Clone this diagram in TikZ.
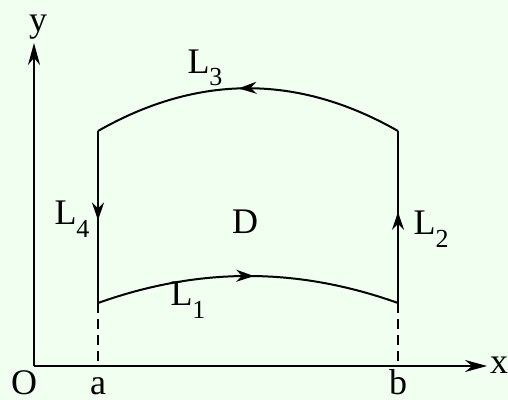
\documentclass[tikz,border=0pt]{standalone}
\usepackage{fontspec}
\setmainfont{Liberation Serif}
\usetikzlibrary{arrows.meta,decorations.markings}
\newcommand{\seg}[1]{L\raisebox{-0.35em}{\fontsize{13}{13}\selectfont #1}}

\begin{document}
\begin{tikzpicture}[x=0.5pt,y=-0.5pt,line width=1pt,
  font=\fontsize{18}{20}\selectfont,
  midarrow/.style={postaction={decorate},
    decoration={markings,mark=at position #1 with {\arrow{Stealth[length=9pt,width=6pt]}}}}]
  \fill[fill={rgb,255:red,240;green,255;blue,240}] (0,0) rectangle (508,400);
  \useasboundingbox (0,0) rectangle (508,400);
  % axes
  \coordinate (O) at (34,366);
  \coordinate (xend) at (487,366);
  \coordinate (yend) at (34,43);
  \draw[-{Stealth[length=11pt,width=6pt]}] (O) -- (xend);
  \draw[-{Stealth[length=11pt,width=6pt]}] (O) -- (yend);
  \node[anchor=base] (xlab) at (499,373) {x};
  \node[anchor=base] (ylab) at (38,32) {y};
  \node[anchor=base] (olab) at (24,394) {O};
  % region D
  \coordinate (A) at (98,303);
  \coordinate (B) at (398,303);
  \coordinate (C) at (398,131);
  \coordinate (E) at (98,131);
  \coordinate (a) at (98,366);
  \coordinate (b) at (398,366);
  \draw[midarrow=0.52] (A) .. controls (199,267) and (297,267) .. (B);
  \draw[midarrow=0.53] (B) -- (C);
  \draw[midarrow=0.53] (C) .. controls (298,74) and (198,74) .. (E);
  \draw[midarrow=0.52] (E) -- (A);
  \draw[dashed,dash pattern=on 5pt off 3pt] (A) -- (a);
  \draw[dashed,dash pattern=on 5pt off 3pt] (B) -- (b);
  \node[anchor=base] (alab) at (98,394) {a};
  \node[anchor=base] (blab) at (398,394) {b};
  \node (L1) at (188,300) {\seg{1}};
  \node (L2) at (431,229) {\seg{2}};
  \node (L3) at (205,68) {\seg{3}};
  \node (L4) at (72,219) {\seg{4}};
  \node (D) at (245,222) {D};
\end{tikzpicture}
\end{document}
